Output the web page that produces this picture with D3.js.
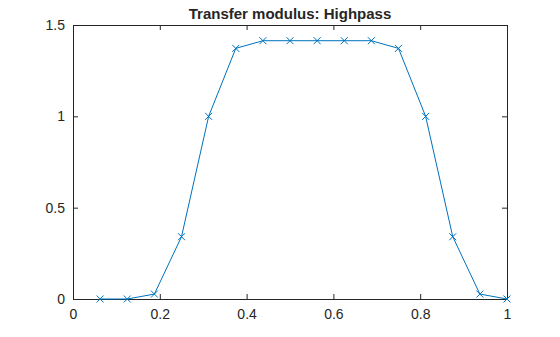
<!DOCTYPE html>
<html>
<head>
<meta charset="utf-8">
<script src="https://cdn.jsdelivr.net/npm/d3@7"></script>
<style>
  body { margin: 0; background: #fff; }
  svg { display: block; font-family: "Liberation Sans", Arial, sans-serif; }
</style>
</head>
<body>
<div id="chart"></div>
<script>
var xValues = [0.0625, 0.125, 0.1875, 0.25, 0.3125, 0.375, 0.4375, 0.5,
               0.5625, 0.625, 0.6875, 0.75, 0.8125, 0.875, 0.9375, 1.0];
var yValues = [0, 0, 0.027, 0.341, 1.0, 1.372, 1.414, 1.414,
               1.414, 1.414, 1.414, 1.372, 1.0, 0.341, 0.027, 0];
var xTicks = [0, 0.2, 0.4, 0.6, 0.8, 1];
var yTicks = [0, 0.5, 1, 1.5];
var titleText = "Transfer modulus: Highpass";

var svgWidth = 560;
var svgHeight = 337;
var margin = { top: 25, right: 53, bottom: 38, left: 73 };
var width = svgWidth - margin.left - margin.right;
var height = svgHeight - margin.top - margin.bottom;
var axisColor = "#262626";
var lineColor = "#0072BD";

var svg = d3.select("#chart")
  .append("svg")
  .attr("width", svgWidth)
  .attr("height", svgHeight);

var chartGroup = svg.append("g")
  .attr("transform", `translate(${margin.left}, ${margin.top})`);

var x = d3.scaleLinear().domain([0, 1]).range([0, width]);
var y = d3.scaleLinear().domain([0, 1.5]).range([height, 0]);

// axes, ticks pointing inward like MATLAB
function styleAxis(g) {
  g.select(".domain").attr("stroke", axisColor).attr("stroke-width", 1);
  g.selectAll(".tick line").attr("stroke", axisColor);
  g.selectAll(".tick text")
    .attr("fill", axisColor)
    .style("font-size", "14px")
    .style("font-family", "Liberation Sans, Arial, sans-serif");
}

chartGroup.append("g")
  .attr("transform", `translate(0, ${height})`)
  .call(d3.axisBottom(x).tickValues(xTicks).tickFormat(d3.format("")).tickSizeInner(-5).tickSizeOuter(0).tickPadding(10))
  .call(styleAxis);

chartGroup.append("g")
  .call(d3.axisLeft(y).tickValues(yTicks).tickFormat(d3.format("")).tickSizeInner(-5).tickSizeOuter(0).tickPadding(8))
  .call(styleAxis);

chartGroup.append("g")
  .call(d3.axisTop(x).tickValues(xTicks).tickFormat("").tickSizeInner(-5).tickSizeOuter(0))
  .call(styleAxis);

chartGroup.append("g")
  .attr("transform", `translate(${width}, 0)`)
  .call(d3.axisRight(y).tickValues(yTicks).tickFormat("").tickSizeInner(-5).tickSizeOuter(0))
  .call(styleAxis);

var points = xValues.map(function(d, i) { return { x: d, y: yValues[i] }; });

chartGroup.append("path")
  .datum(points)
  .attr("fill", "none")
  .attr("stroke", lineColor)
  .attr("stroke-width", 1)
  .attr("d", d3.line().x(d => x(d.x)).y(d => y(d.y)));

// x markers
var s = 3.5;
chartGroup.selectAll(".marker")
  .data(points)
  .enter()
  .append("path")
  .attr("class", "marker")
  .attr("fill", "none")
  .attr("stroke", lineColor)
  .attr("stroke-width", 1)
  .attr("d", function(d) {
    var cx = x(d.x), cy = y(d.y);
    return `M${cx - s},${cy - s}L${cx + s},${cy + s}M${cx - s},${cy + s}L${cx + s},${cy - s}`;
  });

svg.append("text")
  .attr("x", margin.left + width / 2)
  .attr("y", 19)
  .attr("text-anchor", "middle")
  .attr("fill", axisColor)
  .style("font-size", "15px")
  .style("font-weight", "bold")
  .text(titleText);
</script>
</body>
</html>
